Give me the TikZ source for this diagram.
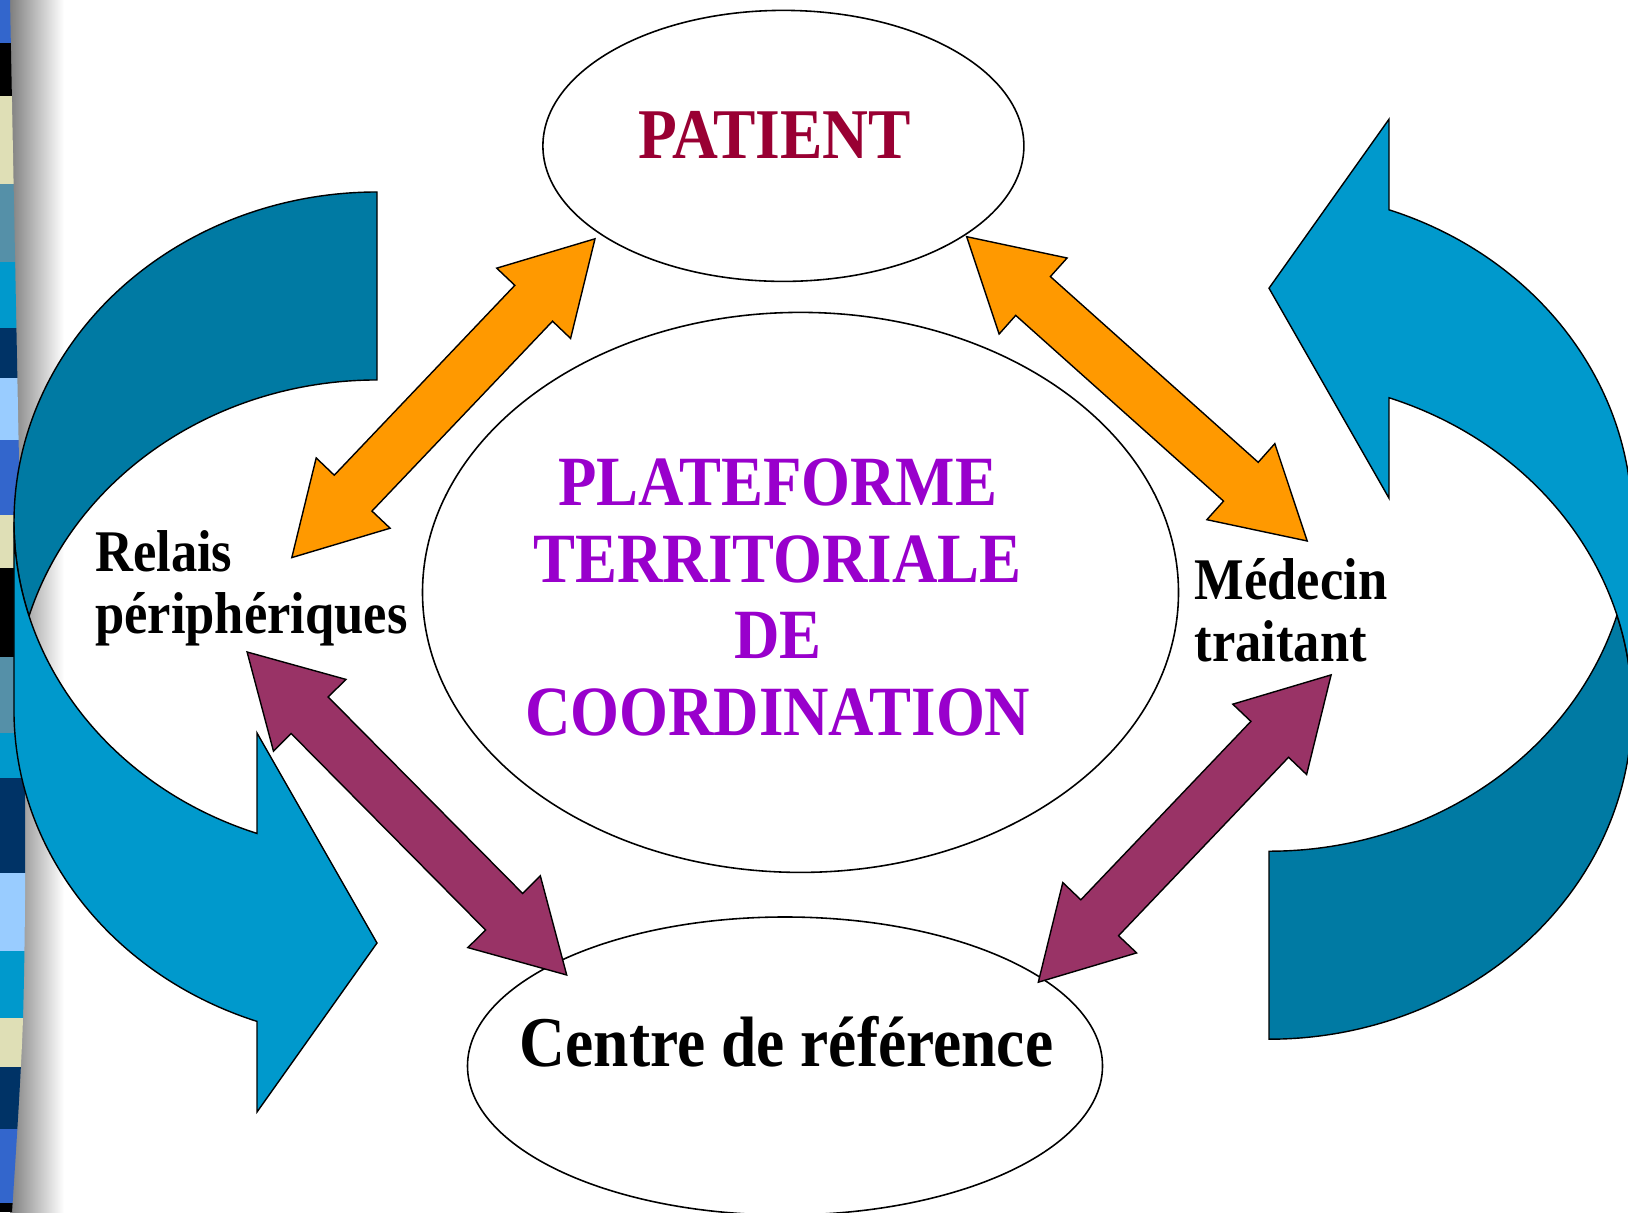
\documentclass[tikz,border=0pt]{standalone}
\usepackage{fontspec}
\setmainfont{Liberation Serif}[FakeStretch=0.89]
\usepackage{tikz}
\usetikzlibrary{calc, shapes.geometric}

\definecolor{patred}{HTML}{990033}
\definecolor{platviolet}{HTML}{9900CC}
\definecolor{arrorange}{HTML}{FF9900}
\definecolor{arrplum}{HTML}{993366}
\definecolor{banddark}{HTML}{007AA3}
\definecolor{bandlight}{HTML}{0099CC}
\definecolor{stripblue}{HTML}{3366CC}
\definecolor{stripbeige}{HTML}{DFDFB6}
\definecolor{stripsteel}{HTML}{5590A8}
\definecolor{stripcyan}{HTML}{0099CC}
\definecolor{stripnavy}{HTML}{003366}
\definecolor{stripsky}{HTML}{99CCFF}

\tikzset{
  bubble/.style={ellipse, draw, fill=white, line width=0.45pt, inner sep=0pt},
  shapeline/.style={draw=black, line width=0.4pt, line join=miter},
  title/.style={inner sep=0pt, font=\bfseries\fontsize{20.3}{24}\selectfont},
  side/.style={inner sep=0pt, align=left, font=\bfseries\fontsize{16.8}{17.5}\selectfont},
  hub/.style={inner sep=0pt, align=center, text=platviolet, font=\bfseries\fontsize{20.1}{21.85}\selectfont},
}

% curved ribbon arrow, drawn around its own centre
\newcommand{\bandarrow}[1]{%
  \begin{scope}[#1]
    \filldraw[shapeline, fill=banddark] (1.815,4.60)
      arc[start angle=90, end angle=196.55, x radius=3.63cm, y radius=3.30cm]
      arc[start angle=163.45, end angle=90, x radius=3.63cm, y radius=3.30cm]
      -- cycle;
    \filldraw[shapeline, fill=bandlight] (-1.815,1.30)
      arc[start angle=180, end angle=250.7, x radius=3.63cm, y radius=3.30cm]
      -- (0.615,-0.81) -- (1.815,-2.91) -- (0.615,-4.60) -- (0.615,-3.694)
      arc[start angle=250.7, end angle=180, x radius=3.63cm, y radius=3.30cm]
      -- cycle;
  \end{scope}}

% block arrow with a head at both ends
\newcommand{\twoway}[3]{%
  \filldraw[shapeline, fill=#3] (#1)
    -- ($(#1)!1.026cm!29.8:(#2)$) -- ($(#1)!0.927cm!16.3:(#2)$)
    -- ($(#2)!0.927cm!-16.3:(#1)$) -- ($(#2)!1.026cm!-29.8:(#1)$)
    -- (#2)
    -- ($(#2)!1.026cm!29.8:(#1)$) -- ($(#2)!0.927cm!16.3:(#1)$)
    -- ($(#1)!0.927cm!-16.3:(#2)$) -- ($(#1)!1.026cm!-29.8:(#2)$)
    -- cycle;}

\begin{document}
\begin{tikzpicture}
  \clip (0,0) rectangle (16.28,12.12);
  \fill[white] (0,0) rectangle (16.28,12.12);

  % left border
  \shade[left color=black!50, right color=white] (0.10,0) rectangle (0.64,12.12);
  \begin{scope}
    \clip (0,0) -- plot[smooth] coordinates {(0.12,0) (0.23,1.94) (0.25,4.32) (0.18,8.02) (0.10,12.12)} -- (0,12.12) -- cycle;
    \fill[stripblue] (0,11.69) rectangle (0.3,12.12);
    \fill[black] (0,11.16) rectangle (0.3,11.69);
    \fill[stripbeige] (0,10.28) rectangle (0.3,11.16);
    \fill[stripsteel] (0,9.50) rectangle (0.3,10.28);
    \fill[stripcyan] (0,8.84) rectangle (0.3,9.50);
    \fill[stripnavy] (0,8.34) rectangle (0.3,8.84);
    \fill[stripsky] (0,7.72) rectangle (0.3,8.34);
    \fill[stripblue] (0,6.97) rectangle (0.3,7.72);
    \fill[stripbeige] (0,6.44) rectangle (0.3,6.97);
    \fill[black] (0,5.55) rectangle (0.3,6.44);
    \fill[stripsteel] (0,4.79) rectangle (0.3,5.55);
    \fill[stripcyan] (0,4.34) rectangle (0.3,4.79);
    \fill[stripnavy] (0,3.39) rectangle (0.3,4.34);
    \fill[stripsky] (0,2.61) rectangle (0.3,3.39);
    \fill[stripcyan] (0,1.94) rectangle (0.3,2.61);
    \fill[stripbeige] (0,1.45) rectangle (0.3,1.94);
    \fill[stripnavy] (0,0.83) rectangle (0.3,1.45);
    \fill[stripblue] (0,0.09) rectangle (0.3,0.83);
    \fill[black] (0,0) rectangle (0.3,0.09);
  \end{scope}

  % curved arrows
  \bandarrow{shift={(1.955,5.60)}}
  \bandarrow{shift={(14.505,6.328)}, rotate=180}

  % Define nodes
  \node[bubble, minimum width=4.81cm, minimum height=2.71cm] (patient) at (7.834,10.661) {};
  \node[bubble, minimum width=7.56cm, minimum height=5.60cm] (plateforme) at (8.005,6.196) {};
  \node[bubble, minimum width=6.35cm, minimum height=2.98cm] (centre) at (7.85,1.46) {};

  \node[title, text=patred, anchor=base] (patient-t) at (7.746,10.531) {PATIENT};
  \node[hub] (plateforme-t) at (7.777,6.145) {PLATEFORME\\TERRITORIALE\\DE\\COORDINATION};
  \node[title, anchor=base] (centre-t) at (7.865,1.456) {Centre de référence};
  \node[side, anchor=base west] (relais) at (0.945,5.786) {Relais\\périphériques};
  \node[side, anchor=base west] (medecin) at (11.94,5.506) {Médecin\\traitant};

  \coordinate (patSW) at (5.95,9.732);
  \coordinate (patSE) at (9.667,9.753);
  \coordinate (relN) at (2.918,6.544);
  \coordinate (relS) at (2.471,5.60);
  \coordinate (medN) at (13.072,6.71);
  \coordinate (medS) at (13.311,5.371);
  \coordinate (crNW) at (5.667,2.37);
  \coordinate (crNE) at (10.383,2.298);

  % Connect the nodes
  \twoway{relN}{patSW}{arrorange}
  \twoway{patSE}{medN}{arrorange}
  \twoway{relS}{crNW}{arrplum}
  \twoway{medS}{crNE}{arrplum}

\end{tikzpicture}
\end{document}
